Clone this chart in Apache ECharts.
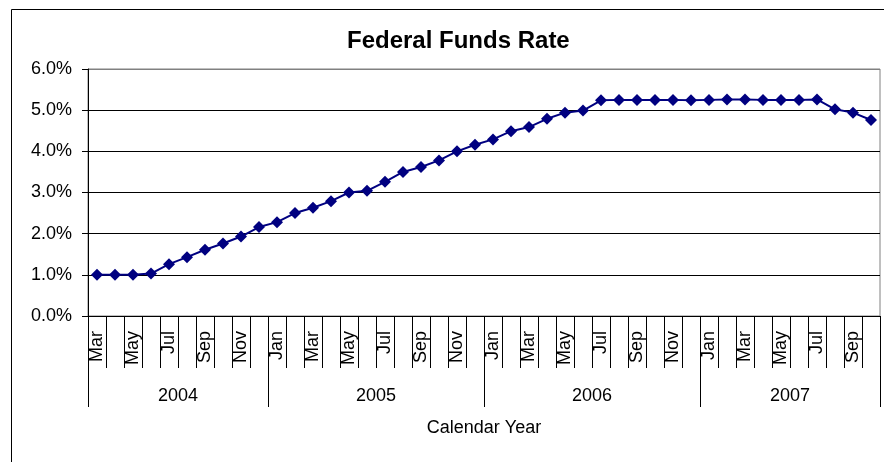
<!DOCTYPE html>
<html>
<head>
<meta charset="utf-8">
<script src="https://cdn.jsdelivr.net/npm/echarts@6/dist/echarts.min.js"></script>
<style>
html,body{margin:0;padding:0;background:#fff;}
#chart{width:884px;height:462px;}
</style>
</head>
<body>
<div id="chart"></div>
<script>
const months = ['Mar','Apr','May','Jun','Jul','Aug','Sep','Oct','Nov','Dec',
  'Jan','Feb','Mar','Apr','May','Jun','Jul','Aug','Sep','Oct','Nov','Dec',
  'Jan','Feb','Mar','Apr','May','Jun','Jul','Aug','Sep','Oct','Nov','Dec',
  'Jan','Feb','Mar','Apr','May','Jun','Jul','Aug','Sep','Oct'];
const rates = [1.00,1.00,1.00,1.03,1.26,1.43,1.61,1.76,1.93,2.16,
  2.28,2.50,2.63,2.79,3.00,3.04,3.26,3.50,3.62,3.78,4.00,4.16,
  4.29,4.49,4.59,4.79,4.94,4.99,5.24,5.25,5.25,5.25,5.25,5.24,
  5.25,5.26,5.26,5.25,5.25,5.25,5.26,5.02,4.94,4.76];
const years = ['2004','2005','2006','2007'];
const yearMonthCounts = [10,12,12,10];
const yTicks = [0,1,2,3,4,5,6];

// boundary axis: one slot per month boundary (months.length + 1)
const boundaryIdx = [0];
yearMonthCounts.forEach(c => boundaryIdx.push(boundaryIdx[boundaryIdx.length-1] + c));
const yearCenterIdx = {};
years.forEach((y, i) => { yearCenterIdx[(boundaryIdx[i] + boundaryIdx[i+1]) / 2] = y; });
const boundaryCats = [];
for (let i = 0; i <= months.length; i++) boundaryCats.push(yearCenterIdx[i] || '');

const FONT = '"Liberation Sans", Arial, sans-serif';
const chart = echarts.init(document.getElementById('chart'), null, {renderer:'canvas'});
chart.setOption({
  animation: false,
  backgroundColor: '#fff',
  title: {
    text: 'Federal Funds Rate',
    left: 342, top: 24,
    textStyle: {fontFamily: FONT, fontSize: 24, fontWeight: 'bold', color: '#000'}
  },
  graphic: [{
    type: 'rect', left: 9, top: 7, silent: true,
    shape: {width: 873, height: 453},
    style: {fill: 'none', stroke: '#000', lineWidth: 1}
  }],
  grid: {left: 88, right: 4, top: 69, bottom: 146, show: true, borderColor: '#808080', borderWidth: 1, containLabel: false},
  xAxis: [{
    type: 'category',
    data: months,
    boundaryGap: true,
    position: 'bottom',
    axisLine: {show: true, lineStyle: {color: '#000', width: 1}},
    axisTick: {show: true, interval: 0, length: 52, lineStyle: {color: '#000'}},
    axisLabel: {interval: 1, rotate: 90, margin: 15, fontFamily: FONT, fontSize: 18, color: '#000'},
    splitLine: {show: false}
  }, {
    type: 'category',
    data: boundaryCats,
    boundaryGap: false,
    position: 'bottom',
    axisLine: {show: false},
    axisTick: {show: true, length: 91, interval: (i) => boundaryIdx.indexOf(i) >= 0, lineStyle: {color: '#000'}},
    axisLabel: {interval: (i, v) => v !== '', margin: 71, fontFamily: FONT, fontSize: 18, color: '#000'},
    splitLine: {show: false},
    name: 'Calendar Year',
    nameLocation: 'middle',
    nameGap: 103,
    nameTextStyle: {fontFamily: FONT, fontSize: 18, color: '#000'}
  }],
  yAxis: {
    type: 'value',
    min: yTicks[0], max: yTicks[yTicks.length-1], interval: 1,
    axisLine: {show: true, lineStyle: {color: '#000', width: 1}},
    axisTick: {show: true, inside: false, length: 6, lineStyle: {color: '#000'}},
    axisLabel: {margin: 16, fontFamily: FONT, fontSize: 18, color: '#000', formatter: v => v.toFixed(1) + '%'},
    splitLine: {show: true, lineStyle: {color: ['#000','#000','#000','#000','#000','#000','#808080'], width: 1}}
  },
  series: [{
    type: 'line',
    data: rates,
    xAxisIndex: 0,
    symbol: 'diamond',
    symbolSize: 12,
    lineStyle: {color: '#000080', width: 2},
    itemStyle: {color: '#000080'},
    z: 5
  }]
});
</script>
</body>
</html>
